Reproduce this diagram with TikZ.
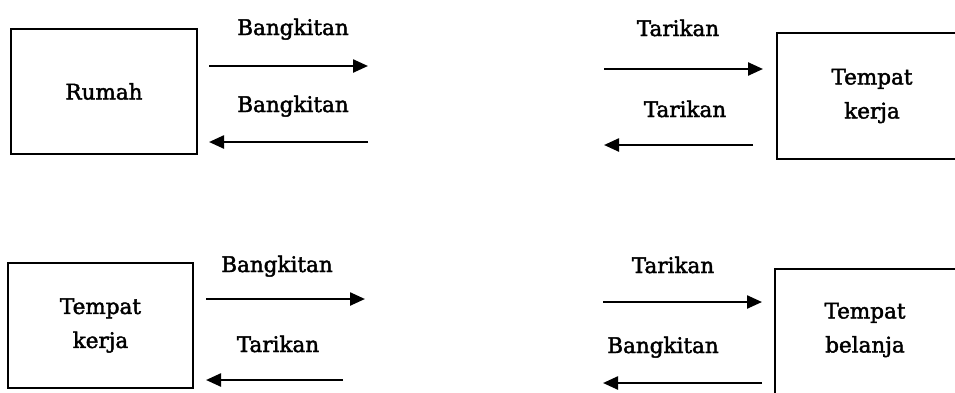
\documentclass[tikz,border=0pt]{standalone}
\usepackage{fontspec}
\setmainfont{DejaVu Serif}[FakeBold=2]
\usetikzlibrary{arrows.meta}
\tikzset{
  box/.style={draw, line width=2.4pt, rectangle, inner sep=0pt, align=center,
    font=\fontsize{21.5}{34}\selectfont},
  lbl/.style={anchor=base, inner sep=0pt, font=\fontsize{21.5}{24}\selectfont},
  txt/.style={inner sep=0pt, align=center, font=\fontsize{21.5}{34}\selectfont},
  arr/.style={line width=2.4pt, -{Triangle[length=15pt,width=13pt]}}
}
\begin{document}
\begin{tikzpicture}[x=1pt,y=-1pt]
\useasboundingbox (0,0) rectangle (955,392);
\clip (0,0) rectangle (955,392);
% boxes
\node[box, minimum width=186pt, minimum height=125pt] (rumah) at (104,91.5) {Rumah};
\node[box, minimum width=190pt, minimum height=126pt] (kerja1) at (872,96) {Tempat\\kerja};
\node[box, minimum width=185pt, minimum height=125pt] (kerja2) at (100.5,325.5) {Tempat\\kerja};
\node[box, minimum width=184pt, minimum height=160pt] (belanja) at (867,349) {};
\node[txt] (belanjatxt) at (865,330) {Tempat\\belanja};
% arrow ends
\coordinate (a1s) at (209,66);  \coordinate (a1e) at (368,66);
\coordinate (a2s) at (368,142); \coordinate (a2e) at (209,142);
\coordinate (a3s) at (604,69);  \coordinate (a3e) at (763,69);
\coordinate (a4s) at (753,145); \coordinate (a4e) at (604,145);
\coordinate (a5s) at (206,299); \coordinate (a5e) at (365,299);
\coordinate (a6s) at (343,380); \coordinate (a6e) at (206,380);
\coordinate (a7s) at (603,302); \coordinate (a7e) at (762,302);
\coordinate (a8s) at (762,383); \coordinate (a8e) at (603,383);
\foreach \i in {1,...,8} {\draw[arr] (a\i s) -- (a\i e);}
% labels
\node[lbl] (l1) at (293,35) {Bangkitan};
\node[lbl] (l2) at (293,112) {Bangkitan};
\node[lbl] (l3) at (678,36) {Tarikan};
\node[lbl] (l4) at (685,117) {Tarikan};
\node[lbl] (l5) at (277,272) {Bangkitan};
\node[lbl] (l6) at (278,352) {Tarikan};
\node[lbl] (l7) at (673,273) {Tarikan};
\node[lbl] (l8) at (663,353) {Bangkitan};
\end{tikzpicture}
\end{document}
